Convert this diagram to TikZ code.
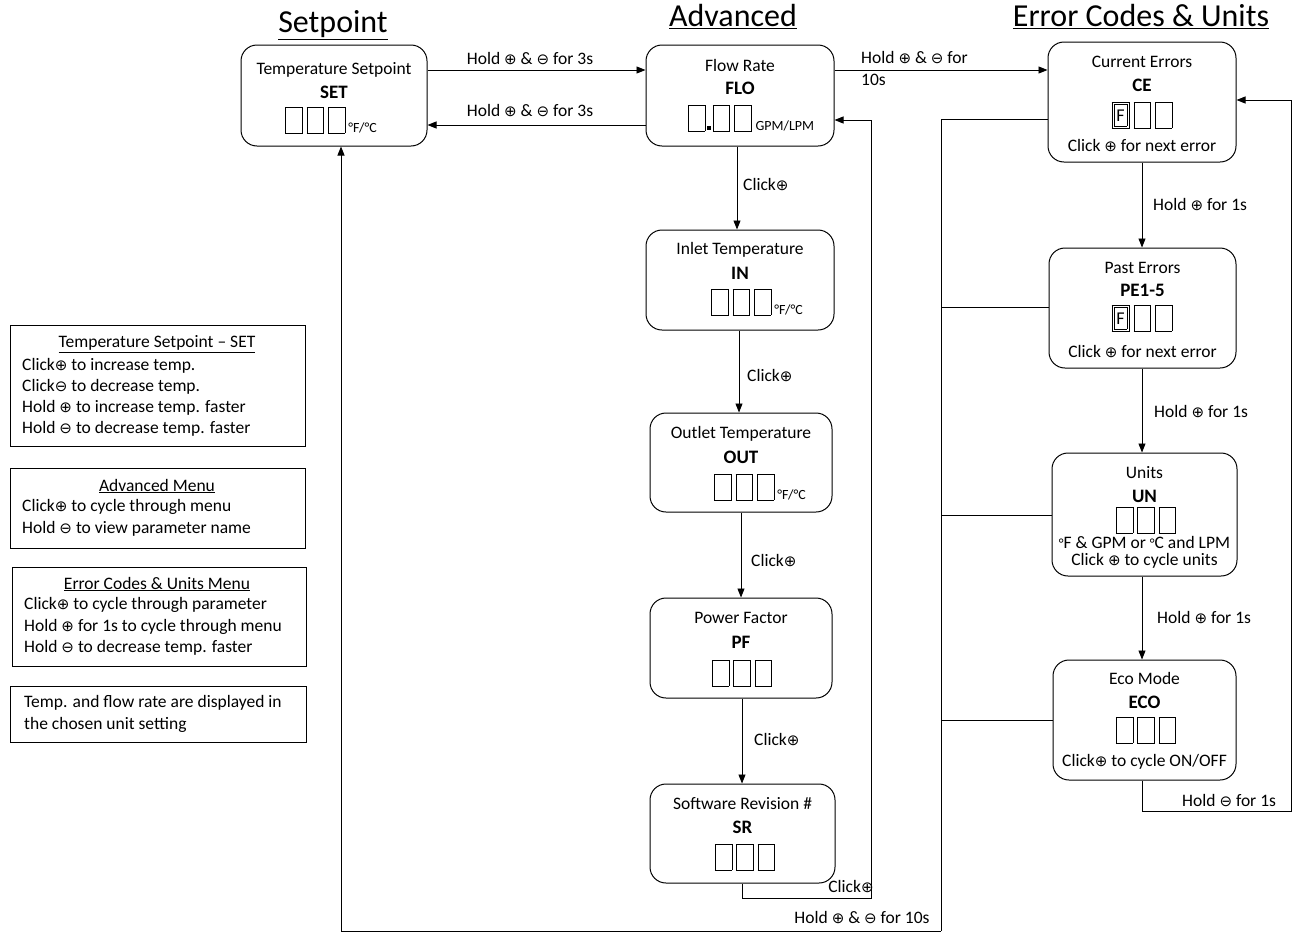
\documentclass[tikz,border=0pt]{standalone}
\usepackage{fontspec}
\setmainfont{Carlito}
\newfontfamily\dejavu{DejaVu Sans}
\usetikzlibrary{arrows.meta}
\newcommand\cp{{\dejavu\fontsize{15}{15}\selectfont\char"2295}}
\newcommand\cmn{{\dejavu\fontsize{15}{15}\selectfont\char"2296}}
\setlength{\fboxsep}{0pt}
\setlength{\fboxrule}{0.7pt}
\newcommand\dg{\fbox{\rule{0pt}{25pt}\hspace{16pt}}}
\newcommand\dgF{\fbox{\rule{0pt}{25pt}\hspace{1.5pt}\raisebox{2pt}{\fbox{\makebox[12pt]{\rule{0pt}{21pt}\raisebox{4pt}{\fontsize{18}{18}\selectfont F}}}}\hspace{1.5pt}}}
\newcommand\dgs{\dg\hspace{4pt}\dg\hspace{4pt}\dg}
\newcommand\unit[1]{{\fontsize{14}{14}\selectfont #1}}
\begin{document}
\begin{tikzpicture}[x=1pt,y=-1pt,
  font=\fontsize{17.5}{20}\selectfont,
  state/.style={draw, rounded corners=16pt, line width=1pt},
  legend/.style={draw, line width=1pt},
  arr/.style={-{Triangle[length=9pt,width=7pt]}, line width=0.9pt},
  ln/.style={line width=0.9pt},
  lbl/.style={inner sep=1pt},
  ttl/.style={inner sep=0pt},
  code/.style={inner sep=0pt, font=\fontsize{19}{21}\selectfont\bfseries},
  head/.style={inner sep=0pt, font=\fontsize{32}{36}\selectfont},
  lg/.style={inner sep=0pt, anchor=west}]
\useasboundingbox (0,0) rectangle (1293,932);

% headers
\node[head] (h1) at (333,25) {\underline{Setpoint}};
\node[head] (h2) at (733,17) {\underline{Advanced}};
\node[head] (h3) at (1141,17) {\underline{Error Codes \& Units}};

% state boxes
\node[state, minimum width=186pt, minimum height=101pt] (set) at (334,95.5) {};
\node[state, minimum width=188pt, minimum height=101pt] (flo) at (740,95.5) {};
\node[state, minimum width=188pt, minimum height=120pt] (ce) at (1142,102) {};
\node[state, minimum width=188pt, minimum height=100pt] (in) at (740,280) {};
\node[state, minimum width=182pt, minimum height=99pt] (out) at (741,462.5) {};
\node[state, minimum width=182pt, minimum height=100pt] (pf) at (741,648) {};
\node[state, minimum width=185pt, minimum height=99pt] (sr) at (742.5,833.5) {};
\node[state, minimum width=187pt, minimum height=120pt] (pe) at (1142.5,308) {};
\node[state, minimum width=185pt, minimum height=123pt] (un) at (1144.5,514.5) {};
\node[state, minimum width=183pt, minimum height=120pt] (eco) at (1144.5,720) {};

% box texts
\node[ttl] (setT) at (334,70) {Temperature Setpoint};
\node[code] (setC) at (334,92) {SET};
\node[ttl] (setD) at (331,120) {\dgs\hspace{3pt}\unit{°F/°C}};

\node[ttl] (floT) at (740,65) {Flow Rate};
\node[ttl,code] (floC) at (740,88) {FLO};
\node[ttl] (floD) at (751,118) {\dg\hspace{2pt}\raisebox{1pt}{\rule{3.5pt}{3.5pt}}\hspace{2pt}\dg\hspace{4pt}\dg\hspace{4pt}\unit{GPM/LPM}};

\node[ttl] (ceT) at (1142,62) {Current Errors};
\node[code] (ceC) at (1142,85) {CE};
\node[ttl] (ceD) at (1142,115) {\dgF\hspace{4pt}\dg\hspace{4pt}\dg};
\node[ttl] (ceN) at (1142,146) {Click \cp{} for next error};

\node[ttl] (inT) at (740,250) {Inlet Temperature};
\node[code] (inC) at (740,273) {IN};
\node[ttl] (inD) at (757,302) {\dgs\hspace{3pt}\unit{°F/°C}};

\node[ttl] (outT) at (741,434) {Outlet Temperature};
\node[code] (outC) at (741,457) {OUT};
\node[ttl] (outD) at (760,487) {\dgs\hspace{3pt}\unit{°F/°C}};

\node[ttl] (pfT) at (741,618) {Power Factor};
\node[code] (pfC) at (741,642) {PF};
\node[ttl] (pfD) at (742,673) {\dgs};

\node[ttl] (srT) at (742.5,804) {Software Revision \#};
\node[code] (srC) at (742.5,827) {SR};
\node[ttl] (srD) at (745,857) {\dgs};

\node[ttl] (peT) at (1142.5,268) {Past Errors};
\node[code] (peC) at (1142.5,290) {PE1-5};
\node[ttl] (peD) at (1142,318) {\dgF\hspace{4pt}\dg\hspace{4pt}\dg};
\node[ttl] (peN) at (1142.5,352) {Click \cp{} for next error};

\node[ttl] (unT) at (1144.5,473) {Units};
\node[code] (unC) at (1144.5,496) {UN};
\node[ttl] (unD) at (1146,520) {\dgs};
\node[ttl] (unN1) at (1144.5,542) {\unit{°}F \& GPM or \unit{°}C and LPM};
\node[ttl] (unN2) at (1144.5,561) {Click \cp{} to cycle units};

\node[ttl] (ecoT) at (1144.5,678) {Eco Mode};
\node[code] (ecoC) at (1144.5,702) {ECO};
\node[ttl] (ecoD) at (1146,730) {\dgs};
\node[ttl] (ecoN) at (1144.5,762) {Click\cp{} to cycle ON/OFF};

% setpoint <-> advanced
\draw[arr] (set.east |- 0,70) -- (flo.west |- 0,70);
\node[lbl] (l1) at (530,59) {Hold \cp{} \& \cmn{} for 3s};
\draw[arr] (flo.west |- 0,125) -- (set.east |- 0,125);
\node[lbl] (l2) at (530,111) {Hold \cp{} \& \cmn{} for 3s};

% advanced -> errors
\draw[arr] (flo.east |- 0,70) -- (ce.west |- 0,70);
\node[lbl, anchor=west] (l3) at (860,58) {Hold \cp{} \& \cmn{} for};
\node[lbl, anchor=west] (l3b) at (860,80) {10s};

% advanced chain
\draw[arr] (flo.south -| 737,0) -- (in.north -| 737,0);
\node[lbl, anchor=west] (c1) at (742,185) {Click\cp};
\draw[arr] (in.south -| 739,0) -- (out.north -| 739,0);
\node[lbl, anchor=west] (c2) at (746,376) {Click\cp};
\draw[arr] (out.south -| 741,0) -- (pf.north -| 741,0);
\node[lbl, anchor=west] (c3) at (750,561) {Click\cp};
\draw[arr] (pf.south -| 742,0) -- (sr.north -| 742,0);
\node[lbl, anchor=west] (c4) at (753,740) {Click\cp};

% SR back to FLO
\coordinate (srA) at (742,898);
\coordinate (srB) at (871,898);
\draw[arr] (sr.south -| 742,0) -- (srA) -- (srB) -- (871,120) -- (flo.east |- 0,120);
\node[lbl] (c5) at (851,887) {Click\cp};

% error chain
\draw[arr] (ce.south -| 1142,0) -- (pe.north -| 1142,0);
\node[lbl, anchor=west] (e1) at (1152,205) {Hold \cp{} for 1s};
\draw[arr] (pe.south -| 1142,0) -- (un.north -| 1142,0);
\node[lbl, anchor=west] (e2) at (1153,412) {Hold \cp{} for 1s};
\draw[arr] (un.south -| 1142,0) -- (eco.north -| 1142,0);
\node[lbl, anchor=west] (e3) at (1156,618) {Hold \cp{} for 1s};

% eco back to CE
\coordinate (ecA) at (1142,811);
\coordinate (ecB) at (1291,811);
\draw[arr] (eco.south -| 1142,0) -- (ecA) -- (ecB) -- (1291,100) -- (ce.east |- 0,100);
\node[lbl, anchor=west] (e4) at (1181,801) {Hold \cmn{} for 1s};

% bus back to setpoint
\coordinate (busT) at (941,119);
\coordinate (busB) at (941,931);
\coordinate (busL) at (341,931);
\draw[ln] (ce.west |- busT) -- (busT) -- (busB);
\draw[ln] (941,307) -- (pe.west |- 0,307);
\draw[ln] (941,515) -- (un.west |- 0,515);
\draw[ln] (941,720) -- (eco.west |- 0,720);
\draw[arr] (busB) -- (busL) -- (set.south -| busL);
\node[lbl] (b1l) at (862,918) {Hold \cp{} \& \cmn{} for 10s};

% legend
\node[legend, minimum width=295pt, minimum height=121pt] (g1) at (157.5,385.5) {};
\node[ttl] (g1t) at (157,344) {\underline{Temperature Setpoint -- SET}};
\node[lg] (g1a) at (22,366) {Click\cp{} to increase temp.};
\node[lg] (g1b) at (22,387) {Click\cmn{} to decrease temp.};
\node[lg] (g1c) at (22,408) {Hold \cp{} to increase temp. faster};
\node[lg] (g1d) at (22,429) {Hold \cmn{} to decrease temp. faster};

\node[legend, minimum width=295pt, minimum height=80pt] (g2) at (157.5,508) {};
\node[ttl] (g2t) at (157,486) {\underline{Advanced Menu}};
\node[lg] (g2a) at (22,507) {Click\cp{} to cycle through menu};
\node[lg] (g2b) at (22,529) {Hold \cmn{} to view parameter name};

\node[legend, minimum width=294pt, minimum height=99pt] (g3) at (159,616.5) {};
\node[ttl] (g3t) at (157,584) {\underline{Error Codes \& Units Menu}};
\node[lg] (g3a) at (24,605) {Click\cp{} to cycle through parameter};
\node[lg] (g3b) at (24,627) {Hold \cp{} for 1s to cycle through menu};
\node[lg] (g3c) at (24,648) {Hold \cmn{} to decrease temp. faster};

\node[legend, minimum width=296pt, minimum height=56pt] (g4) at (158,714) {};
\node[lg] (g4a) at (24,703) {Temp. and flow rate are displayed in};
\node[lg] (g4b) at (24,725) {the chosen unit setting};
\end{tikzpicture}
\end{document}
